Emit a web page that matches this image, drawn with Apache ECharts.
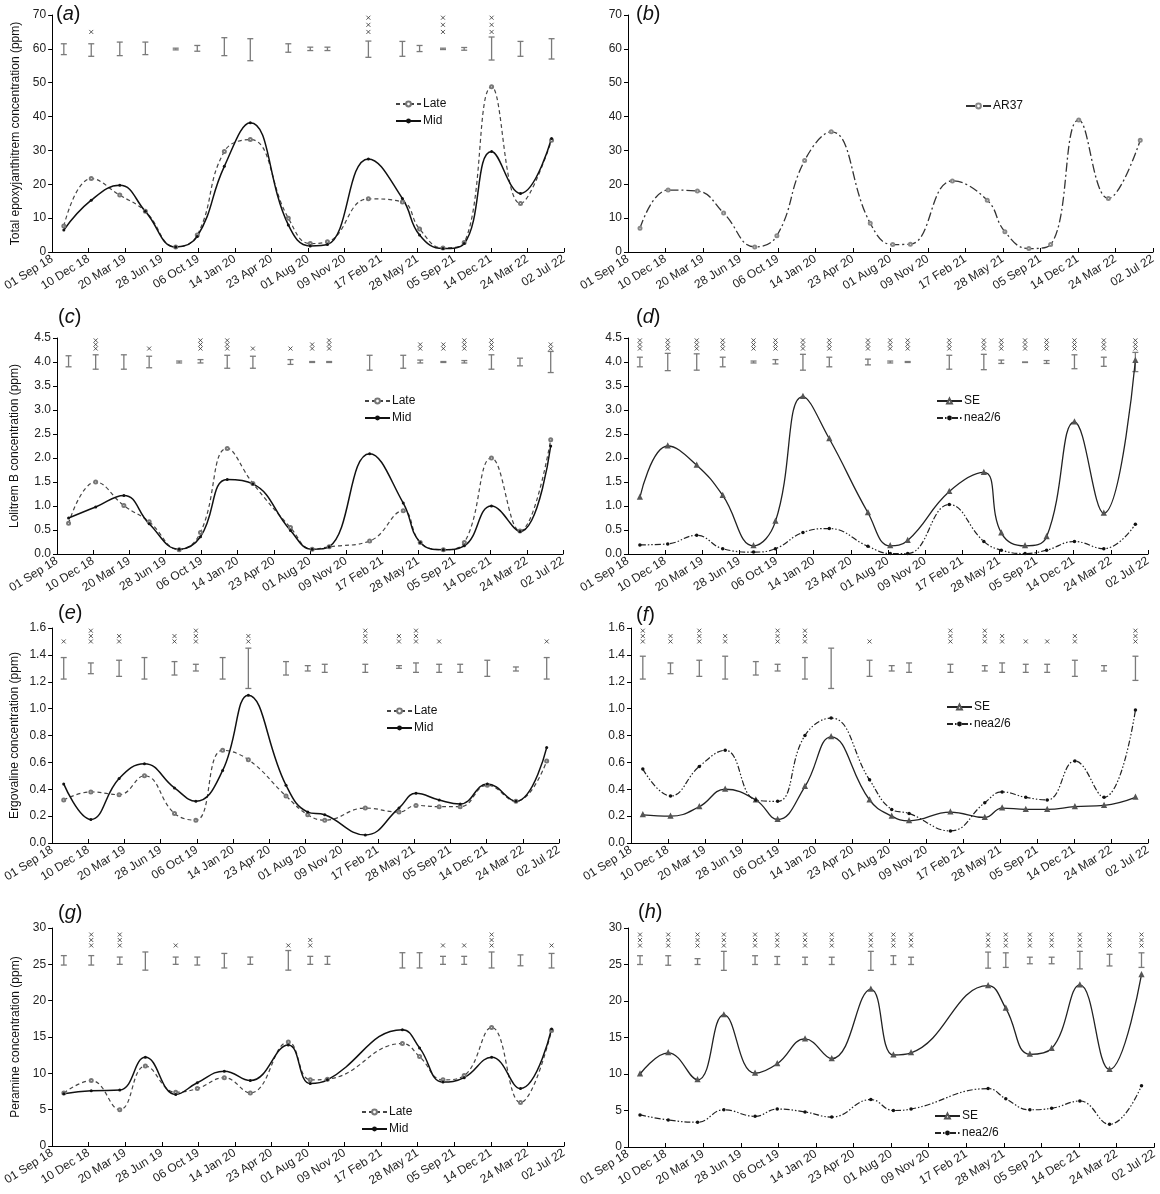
<!DOCTYPE html>
<html>
<head>
<meta charset="utf-8">
<script src="https://cdn.jsdelivr.net/npm/echarts@6/dist/echarts.min.js"></script>
<style>
  html, body { margin: 0; padding: 0; background: #fff; }
  #chart { width: 1160px; height: 1194px; }
</style>
</head>
<body>
<div id="chart"></div>
<script>
// x axis tick labels, one every 100 days from 01 Sep 18
const tickLabels = ['01 Sep 18', '10 Dec 18', '20 Mar 19', '28 Jun 19', '06 Oct 19', '14 Jan 20', '23 Apr 20',
  '01 Aug 20', '09 Nov 20', '17 Feb 21', '28 May 21', '05 Sep 21', '14 Dec 21', '24 Mar 22', '02 Jul 22'];

// sampling dates
const sampleDates = ['2018-10-03', '2018-12-17', '2019-03-05', '2019-05-14', '2019-08-05', '2019-10-03', '2019-12-16',
  '2020-02-25', '2020-06-08', '2020-08-07', '2020-09-23', '2021-01-13', '2021-04-16', '2021-06-02', '2021-08-05',
  '2021-10-02', '2021-12-16', '2022-03-05', '2022-05-29'];
const peramineDates = ['2018-10-03', '2018-12-17', '2019-03-05', '2019-05-14', '2019-08-05', '2019-10-03', '2019-12-16',
  '2020-02-25', '2020-06-08', '2020-08-07', '2020-09-23', '2021-04-16', '2021-06-02', '2021-08-05',
  '2021-10-02', '2021-12-16', '2022-03-05', '2022-05-29'];

// (a) total epoxyjanthitrem
const epoxyLate = [7.7, 21.7, 16.8, 12.0, 1.5, 5.0, 29.7, 33.2, 10.0, 2.5, 3.0, 15.7, 14.8, 6.8, 1.2, 2.8, 48.8, 14.3, 33.0];
const epoxyMid = [6.5, 15.3, 19.7, 12.0, 1.5, 4.6, 25.3, 38.2, 8.0, 1.8, 2.2, 27.5, 15.8, 5.0, 1.0, 2.5, 29.7, 17.3, 33.5];
const epoxyBars = [[58.3, 61.5], [57.8, 61.5], [58, 62], [58.3, 62], [59.7, 60.2], [59.3, 61], [58, 63.3], [56.5, 63],
  [59, 61.5], [59.5, 60.5], [59.5, 60.5], [57.5, 62.3], [57.8, 62.2], [59.2, 61], [59.8, 60.2], [59.6, 60.4],
  [56.7, 63.5], [57.8, 62.2], [57, 63]];
const epoxySig = [0, 1, 0, 0, 0, 0, 0, 0, 0, 0, 0, 3, 0, 0, 3, 0, 3, 0, 0];
// (b) AR37
const epoxyAR37 = [7.0, 18.3, 18.0, 11.5, 1.5, 4.8, 27.0, 35.5, 8.5, 2.2, 2.3, 21.0, 15.3, 6.0, 1.0, 2.2, 39.0, 15.8, 33.0];

// (c) lolitrem B, Late / Mid
const lolLate = [0.64, 1.50, 1.01, 0.67, 0.09, 0.45, 2.20, 1.47, 0.55, 0.10, 0.15, 0.27, 0.90, 0.24, 0.09, 0.24, 2.00, 0.48, 2.38];
const lolMid = [0.75, 0.98, 1.22, 0.63, 0.10, 0.36, 1.55, 1.46, 0.49, 0.10, 0.15, 2.09, 1.06, 0.24, 0.09, 0.17, 1.00, 0.47, 2.25];
const lolBars = [[3.9, 4.13], [3.85, 4.15], [3.85, 4.15], [3.88, 4.12], [3.98, 4.02], [3.98, 4.05], [3.87, 4.14],
  [3.87, 4.12], [3.95, 4.05], [3.99, 4.01], [3.99, 4.01], [3.83, 4.14], [3.87, 4.14], [3.98, 4.04], [3.99, 4.01],
  [3.98, 4.03], [3.85, 4.15], [3.92, 4.08], [3.78, 4.22]];
const lolSig = [0, 3, 0, 1, 0, 3, 3, 1, 1, 2, 3, 0, 0, 2, 2, 3, 3, 0, 2];
// (d) lolitrem B, SE / nea2/6
const lolSE = [1.18, 2.25, 1.85, 1.22, 0.17, 0.68, 3.28, 2.40, 0.86, 0.17, 0.28, 1.30, 1.70, 0.44, 0.17, 0.36, 2.75, 0.85, 4.03];
const lolNea = [0.19, 0.21, 0.39, 0.11, 0.04, 0.11, 0.45, 0.53, 0.16, 0.01, 0.01, 1.03, 0.26, 0.08, 0.01, 0.08, 0.26, 0.11, 0.62];
const lolSEBars = [[3.9, 4.1], [3.82, 4.18], [3.83, 4.17], [3.9, 4.1], [3.98, 4.02], [3.96, 4.05], [3.83, 4.16],
  [3.9, 4.1], [3.94, 4.06], [3.98, 4.02], [3.99, 4.01], [3.85, 4.14], [3.84, 4.16], [3.97, 4.04], [3.99, 4.0],
  [3.97, 4.03], [3.86, 4.15], [3.91, 4.1], [3.8, 4.2]];
const lolSESig = [3, 3, 3, 3, 3, 3, 3, 3, 3, 3, 3, 3, 3, 3, 3, 3, 3, 3, 3];

// (e) ergovaline, Late / Mid
const ergLate = [0.32, 0.38, 0.36, 0.50, 0.22, 0.17, 0.69, 0.62, 0.35, 0.21, 0.17, 0.26, 0.23, 0.28, 0.27, 0.27, 0.43, 0.31, 0.61];
const ergMid = [0.44, 0.175, 0.48, 0.59, 0.41, 0.31, 0.54, 1.10, 0.43, 0.23, 0.21, 0.06, 0.26, 0.37, 0.32, 0.29, 0.44, 0.31, 0.71];
const ergBars = [[1.22, 1.38], [1.26, 1.34], [1.24, 1.36], [1.22, 1.38], [1.25, 1.35], [1.28, 1.33], [1.22, 1.38],
  [1.15, 1.45], [1.25, 1.35], [1.28, 1.32], [1.27, 1.33], [1.27, 1.33], [1.3, 1.32], [1.27, 1.34], [1.27, 1.33],
  [1.27, 1.33], [1.24, 1.36], [1.28, 1.31], [1.22, 1.38]];
const ergSig = [1, 3, 2, 0, 2, 3, 0, 2, 0, 0, 0, 3, 2, 3, 1, 0, 0, 0, 1];
// (f) ergovaline, SE / nea2/6
const ergSE = [0.21, 0.20, 0.27, 0.40, 0.32, 0.175, 0.42, 0.79, 0.32, 0.20, 0.165, 0.23, 0.19, 0.26, 0.25, 0.25, 0.27, 0.28, 0.34];
const ergNea = [0.55, 0.35, 0.57, 0.69, 0.32, 0.31, 0.80, 0.93, 0.47, 0.25, 0.22, 0.09, 0.30, 0.38, 0.34, 0.32, 0.61, 0.34, 0.99];
const ergSEBars = [[1.22, 1.39], [1.26, 1.34], [1.24, 1.36], [1.22, 1.39], [1.25, 1.35], [1.28, 1.33], [1.22, 1.38],
  [1.15, 1.45], [1.24, 1.36], [1.28, 1.32], [1.27, 1.34], [1.27, 1.33], [1.28, 1.32], [1.27, 1.34], [1.27, 1.33],
  [1.27, 1.33], [1.24, 1.36], [1.28, 1.32], [1.21, 1.39]];
const ergSESig = [3, 2, 3, 2, 0, 3, 3, 0, 1, 0, 0, 3, 3, 2, 1, 1, 2, 0, 3];

// (g) peramine, Late / Mid
const perLate = [7.3, 9.0, 5.0, 11.0, 7.4, 7.9, 9.4, 7.3, 14.3, 9.1, 9.2, 14.1, 12.3, 9.1, 9.7, 16.3, 6.0, 15.9];
const perMid = [7.2, 7.6, 7.7, 12.2, 7.1, 8.7, 10.3, 9.0, 13.9, 8.6, 9.1, 16.0, 13.5, 8.8, 9.4, 12.2, 7.9, 16.1];
const perBars = [[24.9, 26.2], [24.9, 26.2], [25, 26], [24.2, 26.7], [25, 26], [24.9, 26], [24.5, 26.5], [25, 26],
  [24.2, 26.9], [25, 26.1], [25, 26.1], [24.5, 26.6], [24.5, 26.6], [25, 26.1], [25, 26.1], [24.5, 26.7],
  [24.8, 26.3], [24.5, 26.5]];
const perSig = [0, 3, 3, 0, 1, 0, 0, 0, 1, 2, 0, 0, 0, 1, 1, 3, 0, 1];
// (h) peramine, SE / nea2/6
const perSE = [10.0, 12.9, 9.2, 18.1, 10.1, 11.4, 14.8, 12.1, 21.6, 12.6, 12.9, 22.1, 19.0, 12.7, 13.5, 22.2, 10.6, 23.6];
const perNea = [4.4, 3.7, 3.4, 5.1, 4.2, 5.2, 4.8, 4.1, 6.5, 5.0, 5.2, 8.0, 6.6, 5.1, 5.3, 6.3, 3.1, 8.4];
const perSEBars = [[25, 26.2], [24.9, 26.2], [25, 25.8], [24.2, 26.8], [25, 26.2], [25, 26.1], [25, 26], [25, 26],
  [24.2, 26.8], [25, 26.2], [25, 26], [24.5, 26.7], [24.6, 26.6], [25.1, 26], [25.1, 26], [24.4, 26.8],
  [24.8, 26.4], [24.6, 26.6]];
const perSESig = [3, 3, 3, 3, 3, 3, 3, 3, 3, 3, 3, 3, 3, 3, 3, 3, 3, 3];

const FONT = 'Liberation Sans, Arial, sans-serif';
const DAY0 = Date.UTC(2018, 8, 1);
function toDay(s) { return Math.round((Date.parse(s) - DAY0) / 86400000); }

// line looks (built fresh per series so nothing is shared)
function look(name) {
  switch (name) {
    case 'Late': return { lineStyle: { color: '#444', width: 1.2, type: [4, 3] }, symbol: 'emptyCircle', symbolSize: 3,
      itemStyle: { color: '#777', borderWidth: 1 } };
    case 'Mid': return { lineStyle: { color: '#111', width: 1.5, type: 'solid' }, symbol: 'circle', symbolSize: 3,
      itemStyle: { color: '#111' } };
    case 'AR37': return { lineStyle: { color: '#333', width: 1.3, type: [9, 3, 2, 3] }, symbol: 'emptyCircle', symbolSize: 3,
      itemStyle: { color: '#888', borderWidth: 1 } };
    case 'SE': return { lineStyle: { color: '#222', width: 1.3, type: 'solid' }, symbol: 'emptyTriangle', symbolSize: 3,
      itemStyle: { color: '#555', borderWidth: 1 } };
    default: return { lineStyle: { color: '#222', width: 1.2, type: [6, 2, 1.5, 2, 1.5, 2] }, symbol: 'circle', symbolSize: 3.5,
      itemStyle: { color: '#111' } };
  }
}

const panels = [
  { tag: 'a', grid: { left: 50, top: 15, width: 514, height: 237 }, yMax: 70, yInt: 10, dec: 0,
    yName: 'Total epoxyjanthitrem concentration (ppm)', nameGap: 30, dates: sampleDates,
    lines: [['Late', epoxyLate], ['Mid', epoxyMid]], bars: epoxyBars, sig: epoxySig, sigBase: 65, sigStep: 2.1,
    legend: { left: 395, top: 98 }, title: { left: 56, top: 4 } },
  { tag: 'b', grid: { left: 628, top: 15, width: 525, height: 237 }, yMax: 70, yInt: 10, dec: 0,
    yName: '', dates: sampleDates, lines: [['AR37', epoxyAR37]],
    legend: { left: 965, top: 100 }, title: { left: 636, top: 4 } },
  { tag: 'c', grid: { left: 57, top: 338, width: 506, height: 216 }, yMax: 4.5, yInt: 0.5, dec: 1,
    yName: 'Lolitrem B concentration (ppm)', nameGap: 36, dates: sampleDates,
    lines: [['Late', lolLate], ['Mid', lolMid]], bars: lolBars, sig: lolSig, sigBase: 4.28, sigStep: 0.085,
    legend: { left: 364, top: 395 }, title: { left: 58, top: 307 } },
  { tag: 'd', grid: { left: 628, top: 338, width: 520, height: 216 }, yMax: 4.5, yInt: 0.5, dec: 1,
    yName: '', dates: sampleDates, lines: [['SE', lolSE], ['nea2/6', lolNea]],
    bars: lolSEBars, sig: lolSESig, sigBase: 4.28, sigStep: 0.085,
    legend: { left: 936, top: 395 }, title: { left: 636, top: 307 } },
  { tag: 'e', grid: { left: 52, top: 628, width: 507, height: 215 }, yMax: 1.6, yInt: 0.2, dec: 1,
    yName: 'Ergovaline concentration (ppm)', nameGap: 31, dates: sampleDates,
    lines: [['Late', ergLate], ['Mid', ergMid]], bars: ergBars, sig: ergSig, sigBase: 1.5, sigStep: 0.04,
    legend: { left: 386, top: 705 }, title: { left: 58, top: 603 } },
  { tag: 'f', grid: { left: 631, top: 628, width: 517, height: 215 }, yMax: 1.6, yInt: 0.2, dec: 1,
    yName: '', dates: sampleDates, lines: [['SE', ergSE], ['nea2/6', ergNea]],
    bars: ergSEBars, sig: ergSESig, sigBase: 1.5, sigStep: 0.04,
    legend: { left: 946, top: 701 }, title: { left: 636, top: 605 } },
  { tag: 'g', grid: { left: 50, top: 928, width: 514, height: 218 }, yMax: 30, yInt: 5, dec: 0,
    yName: 'Peramine concentration (ppm)', nameGap: 30, dates: peramineDates,
    lines: [['Late', perLate], ['Mid', perMid]], bars: perBars, sig: perSig, sigBase: 27.6, sigStep: 0.75,
    legend: { left: 361, top: 1106 }, title: { left: 58, top: 903 } },
  { tag: 'h', grid: { left: 628, top: 928, width: 527, height: 219 }, yMax: 30, yInt: 5, dec: 0,
    yName: '', dates: peramineDates, lines: [['SE', perSE], ['nea2/6', perNea]],
    bars: perSEBars, sig: perSESig, sigBase: 27.6, sigStep: 0.75,
    legend: { left: 934, top: 1110 }, title: { left: 638, top: 902 } }
];

const grids = [], xAxes = [], yAxes = [], series = [], legends = [], titles = [];

panels.forEach((p, i) => {
  const days = p.dates.map(toDay);
  grids.push(Object.assign({ containLabel: false }, p.grid));
  xAxes.push({
    type: 'value', gridIndex: i, min: 0, max: 1400, interval: 100,
    axisLine: { lineStyle: { color: '#000', width: 1 } },
    axisTick: { inside: true, length: 4, lineStyle: { color: '#000' } },
    splitLine: { show: false },
    axisLabel: {
      rotate: 32, margin: 6, fontSize: 12, color: '#222', fontFamily: FONT,
      showMinLabel: true, showMaxLabel: true,
      formatter: v => tickLabels[Math.round(v / 100)]
    }
  });
  yAxes.push({
    type: 'value', gridIndex: i, min: 0, max: p.yMax, interval: p.yInt,
    name: p.yName, nameLocation: 'middle', nameGap: p.nameGap || 30, nameRotate: 90,
    nameTextStyle: { fontSize: 12, color: '#111', fontFamily: FONT },
    axisLine: { show: true, lineStyle: { color: '#000', width: 1 } },
    axisTick: { show: true, length: 4, lineStyle: { color: '#000' } },
    splitLine: { show: false },
    axisLabel: { fontSize: 12, color: '#222', fontFamily: FONT, margin: 6,
      formatter: v => v.toFixed(p.dec) }
  });

  p.lines.forEach(([name, vals]) => {
    series.push(Object.assign({
      name: name, type: 'line', xAxisIndex: i, yAxisIndex: i, smooth: 0.45,
      data: vals.map((v, k) => [days[k], v]), z: 3
    }, look(name)));
  });

  if (p.bars) {
    series.push({
      type: 'custom', xAxisIndex: i, yAxisIndex: i, silent: true, z: 2,
      encode: { x: 0, y: [1, 2] },
      data: p.bars.map((b, k) => [days[k], b[0], b[1]]),
      renderItem: (params, api) => {
        const lo = api.coord([api.value(0), api.value(1)]);
        const hi = api.coord([api.value(0), api.value(2)]);
        const st = { stroke: '#7a7a7a', lineWidth: 1.3 };
        return { type: 'group', children: [
          { type: 'line', shape: { x1: lo[0], y1: lo[1], x2: hi[0], y2: hi[1] }, style: st },
          { type: 'line', shape: { x1: lo[0] - 3, y1: lo[1], x2: lo[0] + 3, y2: lo[1] }, style: st },
          { type: 'line', shape: { x1: hi[0] - 3, y1: hi[1], x2: hi[0] + 3, y2: hi[1] }, style: st }
        ] };
      }
    });
    const marks = [];
    p.sig.forEach((n, k) => {
      for (let j = 0; j < n; j++) marks.push([days[k], p.sigBase + j * p.sigStep]);
    });
    series.push({
      type: 'scatter', xAxisIndex: i, yAxisIndex: i, silent: true, z: 2,
      symbol: 'path://M0,0L10,10M10,0L0,10', symbolSize: 4,
      itemStyle: { color: 'transparent', borderColor: '#333', borderWidth: 1 },
      data: marks
    });
  }

  legends.push({
    data: p.lines.map(l => l[0]), orient: 'vertical', left: p.legend.left, top: p.legend.top,
    itemWidth: 25, itemHeight: 6, itemGap: 5, padding: 0, selectedMode: false,
    textStyle: { fontSize: 12, color: '#111', fontFamily: FONT, padding: [0, 0, 0, -3] }
  });
  titles.push({
    text: '{p|(}{i|' + p.tag + '}{p|)}', left: p.title.left, top: p.title.top, padding: 0,
    textStyle: { fontWeight: 'normal', rich: {
      p: { fontSize: 20, color: '#111', fontFamily: FONT, fontWeight: 'normal' },
      i: { fontSize: 20, color: '#111', fontFamily: FONT, fontWeight: 'normal', fontStyle: 'italic' }
    } }
  });
});

const chart = echarts.init(document.getElementById('chart'), null, { renderer: 'canvas' });
chart.setOption({
  animation: false,
  backgroundColor: '#fff',
  title: titles,
  legend: legends,
  grid: grids,
  xAxis: xAxes,
  yAxis: yAxes,
  series: series
});
</script>
</body>
</html>
